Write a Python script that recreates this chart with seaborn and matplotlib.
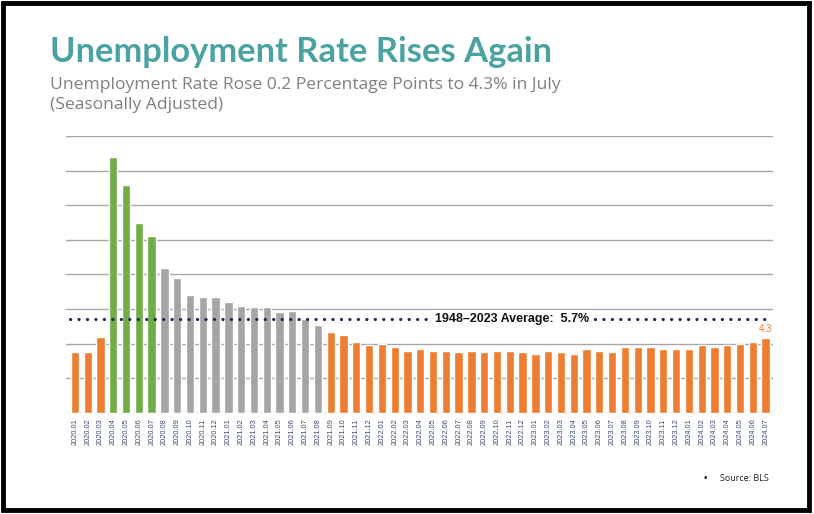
import matplotlib
matplotlib.use("Agg")
import matplotlib.pyplot as plt
import seaborn as sns
import pandas as pd
from matplotlib.patches import Rectangle

months = ["2020.01","2020.02","2020.03","2020.04","2020.05","2020.06","2020.07","2020.08","2020.09","2020.10","2020.11","2020.12",
          "2021.01","2021.02","2021.03","2021.04","2021.05","2021.06","2021.07","2021.08","2021.09","2021.10","2021.11","2021.12",
          "2022.01","2022.02","2022.03","2022.04","2022.05","2022.06","2022.07","2022.08","2022.09","2022.10","2022.11","2022.12",
          "2023.01","2023.02","2023.03","2023.04","2023.05","2023.06","2023.07","2023.08","2023.09","2023.10","2023.11","2023.12",
          "2024.01","2024.02","2024.03","2024.04","2024.05","2024.06","2024.07"]
rates = [3.5, 3.5, 4.4, 14.8, 13.2, 11.0, 10.2, 8.4, 7.8, 6.8, 6.7, 6.7,
         6.4, 6.2, 6.1, 6.1, 5.8, 5.9, 5.4, 5.1, 4.7, 4.5, 4.1, 3.9,
         4.0, 3.8, 3.6, 3.7, 3.6, 3.6, 3.5, 3.6, 3.5, 3.6, 3.6, 3.5,
         3.4, 3.6, 3.5, 3.4, 3.7, 3.6, 3.5, 3.8, 3.8, 3.8, 3.7, 3.7,
         3.7, 3.9, 3.8, 3.9, 4.0, 4.1, 4.3]
groups = (["normal"] * 3 + ["peak"] * 4 + ["recovery"] * 13 + ["normal"] * 35)
palette = {"normal": "#ED7D31", "peak": "#70AD47", "recovery": "#A5A5A5"}
avg_label = "1948\u20132023 Average:  5.7%"
avg_line = 5.4
last_label = "4.3"

df = pd.DataFrame({"month": months, "rate": rates, "group": groups})

sns.set_theme(style="white")
plt.rcParams["font.family"] = ["Liberation Sans", "DejaVu Sans"]

fig = plt.figure(figsize=(8.14, 5.14), dpi=100)
ax = fig.add_axes([0.081, 0.197, 0.869, 0.538])

sns.barplot(data=df, x="month", y="rate", hue="group", palette=palette,
            dodge=False, width=0.65, legend=False, ax=ax, saturation=1, zorder=3)

ax.set_ylim(0, 16)
ax.set_yticks(range(0, 17, 2))
ax.set_yticklabels([])
ax.tick_params(axis="y", length=0)
ax.yaxis.grid(True, color="#A6A6A6", linewidth=1.0, zorder=0)
ax.set_axisbelow(True)
for s in ax.spines.values():
    s.set_visible(False)
ax.set_xlim(-0.7, len(months) - 0.4)
ax.set_xlabel("")
ax.set_ylabel("")
ax.tick_params(axis="x", length=0, pad=4)
plt.setp(ax.get_xticklabels(), rotation=90, fontsize=5.3, color="#3B4A7A")

# dotted average line with label
ax.plot([-0.4, len(months) - 0.6], [avg_line, avg_line], linestyle=(0, (0.05, 2.6)),
        color="#1F2A5C", linewidth=2.3, dash_capstyle="round", zorder=4)
ax.text(34.2, avg_line, avg_label, ha="center", va="center", fontsize=9,
        fontweight="bold", color="#111111", zorder=5,
        bbox=dict(facecolor="white", edgecolor="none", pad=2.5))

ax.text(len(months) - 1, rates[-1] + 0.25, last_label, ha="center", va="bottom",
        fontsize=7, color="#ED7D31", zorder=5)

fig.text(0.061, 0.880, "Unemployment Rate Rises Again", fontsize=24.8, fontweight="bold",
         color="#4BA3A1", family=["Lato", "DejaVu Sans"], va="baseline")
fig.text(0.061, 0.826, "Unemployment Rate Rose 0.2 Percentage Points to 4.3% in July",
         fontsize=12.6, color="#808080", family=["Open Sans", "DejaVu Sans"], va="baseline")
fig.text(0.061, 0.787, "(Seasonally Adjusted)",
         fontsize=12.6, color="#808080", family=["Open Sans", "DejaVu Sans"], va="baseline")

fig.text(0.865, 0.07, "\u2022", fontsize=7, color="#111111", va="center")
fig.text(0.885, 0.07, "Source: BLS", fontsize=6.5, color="#222222", va="center",
         family=["Open Sans", "DejaVu Sans"])

fig.patches.append(Rectangle((0.004, 0.008), 0.990, 0.986, transform=fig.transFigure,
                             fill=False, edgecolor="black", linewidth=3.5, zorder=10))

fig.savefig("out.png", dpi=100)
